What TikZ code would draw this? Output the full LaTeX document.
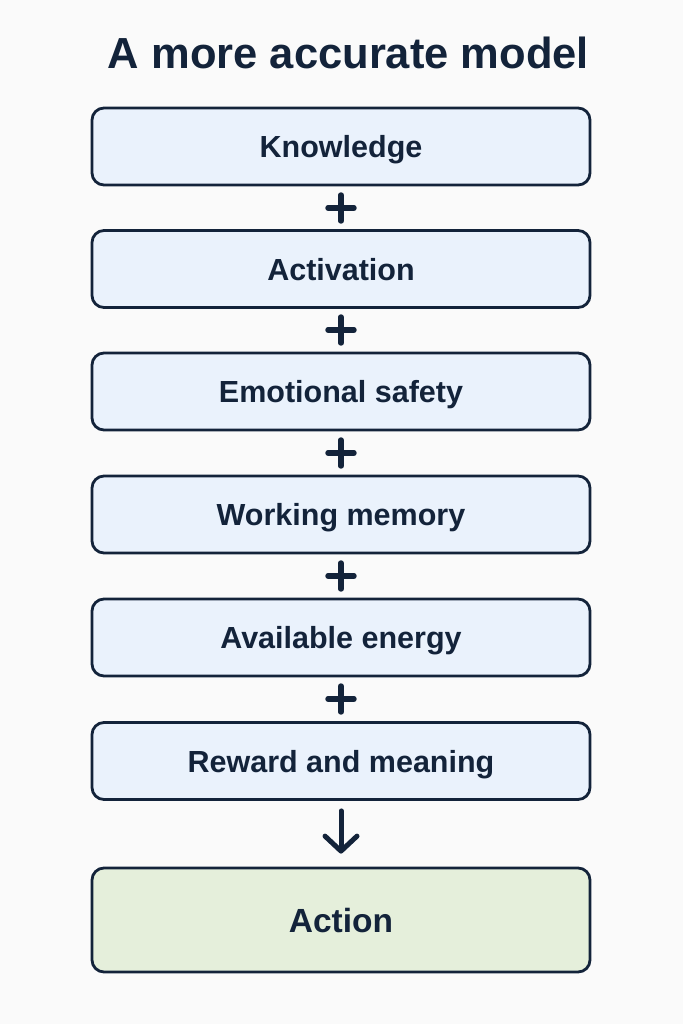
\documentclass[tikz,border=0pt]{standalone}
\usepackage{fontspec}
\setmainfont{Liberation Sans}
\usetikzlibrary{arrows.meta}
\definecolor{ink}{HTML}{13233A}
\definecolor{boxblue}{HTML}{EAF2FC}
\definecolor{boxgreen}{HTML}{E5EFDB}
\definecolor{bg}{HTML}{FAFAFA}
\begin{document}
\begin{tikzpicture}[x=1pt,y=-1pt,
  box/.style={draw=ink, line width=2.8pt, rounded corners=12pt, fill=boxblue,
    minimum width=498pt, minimum height=77pt, inner sep=0pt,
    text height=22pt, text depth=0pt,
    font=\fontsize{30.5}{34}\selectfont\bfseries, text=ink},
  actbox/.style={box, fill=boxgreen, minimum height=104pt, text height=24pt,
    font=\fontsize{33.5}{38}\selectfont\bfseries},
  plusmark/.style={draw=ink, line width=5.4pt, line cap=round},
  titletext/.style={font=\fontsize{43.5}{50}\selectfont\bfseries, text=ink,
    inner sep=0pt, text height=31.5pt, text depth=0pt}]
\fill[bg] (0,0) rectangle (683,1024);
\useasboundingbox (0,0) rectangle (683,1024);
\node[titletext] (title) at (348.5,52.5) {A more accurate model};
\node[box] (b1) at (341,146.5) {Knowledge};
\node[box] (b2) at (341,269) {Activation};
\node[box] (b3) at (341,391.5) {Emotional safety};
\node[box] (b4) at (341,514.5) {Working memory};
\node[box] (b5) at (341,637.5) {Available energy};
\node[box] (b6) at (341,761) {Reward and meaning};
\node[actbox] (act) at (341,920) {Action};
\foreach \y/\n in {208/p1,330/p2,453/p3,576/p4,699/p5}{
  \coordinate (\n) at (341,\y);
  \draw[plusmark] ([xshift=-13pt]\n) -- ([xshift=13pt]\n);
  \draw[plusmark] ([yshift=-13pt]\n) -- ([yshift=13pt]\n);
}
\draw[draw=ink, line width=5pt, line cap=round,
  -{Straight Barb[length=15pt,width=32pt,line width=5pt,round]},
  shorten <=10pt, shorten >=13pt] (b6.south) -- (act.north);
\end{tikzpicture}
\end{document}
